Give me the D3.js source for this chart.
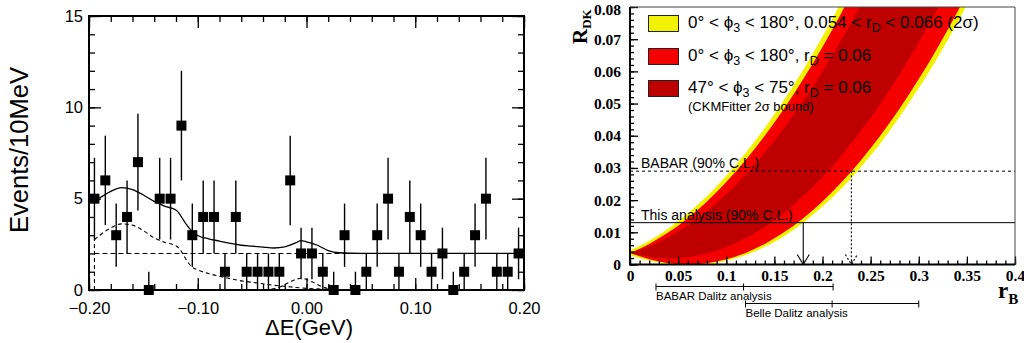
<!DOCTYPE html>
<html>
<head>
<meta charset="utf-8">
<script src="https://cdn.jsdelivr.net/npm/d3@7"></script>
<style>
  body { margin: 0; background: #fff; }
  svg { display: block; }
  .sans { font-family: "Liberation Sans", Arial, Helvetica, sans-serif; }
  .serif { font-family: "Liberation Serif", "Times New Roman", serif; font-weight: bold; }
</style>
</head>
<body>
<svg id="chart" width="1024" height="343"></svg>
<script>
// ---- left panel: Delta E distribution (10 MeV bins)
const binCenters = [-0.195, -0.185, -0.175, -0.165, -0.155, -0.145, -0.135, -0.125, -0.115, -0.105,
  -0.095, -0.085, -0.075, -0.065, -0.055, -0.045, -0.035, -0.025, -0.015, -0.005,
  0.005, 0.015, 0.025, 0.035, 0.045, 0.055, 0.065, 0.075, 0.085, 0.095,
  0.105, 0.115, 0.125, 0.135, 0.145, 0.155, 0.165, 0.175, 0.185, 0.195];
const counts = [5, 6, 3, 4, 7, 0, 5, 5, 9, 3,
  4, 4, 1, 4, 1, 1, 1, 1, 6, 2,
  2, 1, 0, 3, 0, 1, 3, 5, 1, 4,
  3, 1, 2, 0, 1, 3, 5, 1, 1, 2];

// fit curves
const totalX = [-0.195, -0.19, -0.18, -0.17, -0.16, -0.15, -0.14, -0.13, -0.12, -0.11, -0.105, -0.10,
  -0.09, -0.08, -0.07, -0.06, -0.05, -0.04, -0.03, -0.02, -0.01, -0.005, 0.0, 0.01, 0.02, 0.03, 0.05, 0.2];
const totalY = [4.9, 5.05, 5.4, 5.6, 5.5, 5.2, 4.85, 4.58, 4.38, 3.55, 3.2, 2.98,
  2.8, 2.68, 2.55, 2.45, 2.4, 2.35, 2.3, 2.36, 2.58, 2.7, 2.64, 2.45, 2.16, 2.04, 2.0, 2.0];
const peakingX = [-0.195, -0.19, -0.18, -0.17, -0.16, -0.15, -0.14, -0.13, -0.12, -0.115, -0.11, -0.105,
  -0.10, -0.09, -0.08, -0.07, -0.06, -0.05, -0.04, -0.03, -0.02, -0.01, 0.0, 0.01, 0.02, 0.04, 0.06];
const peakingY = [2.75, 3.0, 3.4, 3.62, 3.55, 3.25, 2.85, 2.6, 2.42, 2.1, 1.6, 1.25,
  1.1, 0.9, 0.75, 0.62, 0.5, 0.42, 0.34, 0.26, 0.2, 0.14, 0.09, 0.06, 0.03, 0.01, 0.0];
const signalX = [-0.045, -0.035, -0.025, -0.015, -0.005, 0.005, 0.015, 0.025, 0.035, 0.045];
const signalY = [0.0, 0.03, 0.16, 0.45, 0.64, 0.45, 0.16, 0.03, 0.0, 0.0];
const bkgX = [-0.195, 0.2];
const bkgY = [2.0, 2.0];

const xTicksLeft = [-0.2, -0.1, 0.0, 0.1, 0.2];
const yTicksLeft = [0, 5, 10, 15];

// ---- right panel: R_DK vs r_B
const rBGrid = [0, 0.02, 0.04, 0.06, 0.08, 0.10, 0.12, 0.14, 0.16, 0.18, 0.20,
  0.22, 0.24, 0.26, 0.28, 0.30, 0.32, 0.34, 0.36, 0.38, 0.40];
const yellowHi = [0.0044, 0.0074, 0.0112, 0.0159, 0.0213, 0.0276, 0.0346, 0.0424, 0.0511, 0.0605, 0.0708,
  0.0818, 0.0936, 0.1063, 0.1197, 0.1340, 0.1490, 0.1648, 0.1815, 0.1989, 0.2172];
const yellowLo = [0.0029, 0.0012, 0.0002, 0.0, 0.0002, 0.0012, 0.0029, 0.0055, 0.0088, 0.0130, 0.0180,
  0.0237, 0.0303, 0.0376, 0.0458, 0.0548, 0.0645, 0.0751, 0.0864, 0.0986, 0.1116];
const redHi = [0.0036, 0.0064, 0.0100, 0.0144, 0.0196, 0.0256, 0.0324, 0.0400, 0.0484, 0.0576, 0.0676,
  0.0784, 0.0900, 0.1024, 0.1156, 0.1296, 0.1444, 0.1600, 0.1764, 0.1936, 0.2116];
const redLo = [0.0036, 0.0016, 0.0004, 0.0, 0.0004, 0.0016, 0.0036, 0.0064, 0.0100, 0.0144, 0.0196,
  0.0256, 0.0324, 0.0400, 0.0484, 0.0576, 0.0676, 0.0784, 0.0900, 0.1024, 0.1156];
const darkHi = [0.0036, 0.0056, 0.0085, 0.0121, 0.0165, 0.0218, 0.0278, 0.0347, 0.0423, 0.0507, 0.0600,
  0.0700, 0.0808, 0.0925, 0.1049, 0.1181, 0.1322, 0.1470, 0.1626, 0.1791, 0.1963];
const darkLo = [0.0036, 0.0024, 0.0019, 0.0023, 0.0035, 0.0054, 0.0082, 0.0117, 0.0161, 0.0213, 0.0272,
  0.0340, 0.0416, 0.0499, 0.0591, 0.0691, 0.0798, 0.0914, 0.1038, 0.1169, 0.1309];

const babarLimit = { rdk: 0.029, rb: 0.23, label: 'BABAR (90% C.L.)' };
const thisLimit = { rdk: 0.013, rb: 0.18, label: 'This analysis (90% C.L.)' };
const babarDalitz = [0.027, 0.118, 0.211];
const belleDalitz = [0.12, 0.21, 0.30];

const xTicksRight = [0, 0.05, 0.1, 0.15, 0.2, 0.25, 0.3, 0.35, 0.4];
const yTicksRight = [0, 0.01, 0.02, 0.03, 0.04, 0.05, 0.06, 0.07, 0.08];

const colYellow = '#f2f200';
const colRed = '#f40000';
const colDark = '#bf0000';

const svg = d3.select('#chart');

// ================= left panel =================
const xL = d3.scaleLinear().domain([-0.2, 0.2]).range([89, 524]);
const yL = d3.scaleLinear().domain([0, 15]).range([290, 16]);

function styleAxis(g, cls, size) {
  g.select('.domain').remove();
  g.selectAll('line').attr('stroke', '#000').attr('stroke-width', 1.3);
  g.attr('font-family', null).attr('font-size', null);
  g.selectAll('text').attr('class', cls).attr('font-size', size).attr('fill', '#000');
}

const left = svg.append('g');

left.append('g').attr('transform', 'translate(0,' + yL(0) + ')')
  .call(d3.axisBottom(xL).tickValues(xTicksLeft).tickSize(-12).tickPadding(12).tickFormat(d3.format('.2f')))
  .call(g => styleAxis(g, 'sans', 16.5));
left.append('g').attr('transform', 'translate(0,' + yL(0) + ')')
  .call(d3.axisBottom(xL).tickValues(xL.ticks(20)).tickSize(-6).tickFormat(''))
  .call(g => styleAxis(g, 'sans', 10));
left.append('g').attr('transform', 'translate(0,' + yL(15) + ')')
  .call(d3.axisTop(xL).tickValues(xTicksLeft).tickSize(-12).tickFormat(''))
  .call(g => styleAxis(g, 'sans', 10));
left.append('g').attr('transform', 'translate(0,' + yL(15) + ')')
  .call(d3.axisTop(xL).tickValues(xL.ticks(20)).tickSize(-6).tickFormat(''))
  .call(g => styleAxis(g, 'sans', 10));
left.append('g').attr('transform', 'translate(' + xL(-0.2) + ',0)')
  .call(d3.axisLeft(yL).tickValues(yTicksLeft).tickSize(-12).tickPadding(6))
  .call(g => styleAxis(g, 'sans', 16.5));
left.append('g').attr('transform', 'translate(' + xL(-0.2) + ',0)')
  .call(d3.axisLeft(yL).tickValues(yL.ticks(15)).tickSize(-6).tickFormat(''))
  .call(g => styleAxis(g, 'sans', 10));
left.append('g').attr('transform', 'translate(' + xL(0.2) + ',0)')
  .call(d3.axisRight(yL).tickValues(yTicksLeft).tickSize(-12).tickFormat(''))
  .call(g => styleAxis(g, 'sans', 10));
left.append('g').attr('transform', 'translate(' + xL(0.2) + ',0)')
  .call(d3.axisRight(yL).tickValues(yL.ticks(15)).tickSize(-6).tickFormat(''))
  .call(g => styleAxis(g, 'sans', 10));

// fit components
const lineL = (xs, ys) => d3.line()
  .x((d, i) => xL(xs[i]))
  .y(d => yL(d))
  .curve(d3.curveMonotoneX)(ys);

left.append('path').attr('d', lineL(bkgX, bkgY))
  .attr('fill', 'none').attr('stroke', '#000').attr('stroke-width', 1.1).attr('stroke-dasharray', '5,3');
left.append('line')
  .attr('x1', xL(peakingX[0])).attr('x2', xL(peakingX[0]))
  .attr('y1', yL(0)).attr('y2', yL(peakingY[0]))
  .attr('stroke', '#000').attr('stroke-width', 1.1).attr('stroke-dasharray', '4,3');
left.append('path').attr('d', lineL(peakingX, peakingY))
  .attr('fill', 'none').attr('stroke', '#000').attr('stroke-width', 1.1).attr('stroke-dasharray', '4,3');
left.append('path').attr('d', lineL(signalX, signalY))
  .attr('fill', 'none').attr('stroke', '#000').attr('stroke-width', 1.1).attr('stroke-dasharray', '4,3');
left.append('path').attr('d', lineL(totalX, totalY))
  .attr('fill', 'none').attr('stroke', '#000').attr('stroke-width', 1.3);

// data points with sqrt(n) errors
const pts = binCenters.map((c, i) => ({ x: c, n: counts[i] }));
left.append('g').selectAll('line').data(pts).join('line')
  .attr('x1', d => xL(d.x)).attr('x2', d => xL(d.x))
  .attr('y1', d => yL(Math.max(0, d.n - Math.sqrt(d.n))))
  .attr('y2', d => yL(d.n + (d.n > 0 ? Math.sqrt(d.n) : 1)))
  .attr('stroke', '#000').attr('stroke-width', 1.4);
left.append('g').selectAll('rect').data(pts).join('rect')
  .attr('x', d => xL(d.x) - 5).attr('y', d => yL(d.n) - 5)
  .attr('width', 10).attr('height', 10).attr('fill', '#000');

left.append('rect')
  .attr('x', xL(-0.2)).attr('y', yL(15))
  .attr('width', xL(0.2) - xL(-0.2)).attr('height', yL(0) - yL(15))
  .attr('fill', 'none').attr('stroke', '#000').attr('stroke-width', 2);

left.append('text').attr('class', 'sans')
  .attr('transform', 'translate(28,150) rotate(-90)')
  .attr('text-anchor', 'middle').attr('font-size', 25.5)
  .text('Events/10MeV');
left.append('text').attr('class', 'sans')
  .attr('x', 309).attr('y', 335).attr('text-anchor', 'middle').attr('font-size', 22)
  .text('ΔE(GeV)');

// ================= right panel =================
const xR = d3.scaleLinear().domain([0, 0.4]).range([630, 1015]);
const yR = d3.scaleLinear().domain([0, 0.08]).range([264.5, 7]);
const right = svg.append('g');

right.append('clipPath').attr('id', 'clipR').append('rect')
  .attr('x', xR(0)).attr('y', yR(0.08))
  .attr('width', xR(0.4) - xR(0)).attr('height', yR(0) - yR(0.08));

const band = (lo, hi) => d3.area()
  .x((d, i) => xR(rBGrid[i]))
  .y0((d, i) => yR(lo[i]))
  .y1((d, i) => yR(hi[i]))
  .curve(d3.curveMonotoneX)(rBGrid);

const bands = right.append('g').attr('clip-path', 'url(#clipR)');
bands.append('path').attr('d', band(yellowLo, yellowHi)).attr('fill', colYellow);
bands.append('path').attr('d', band(redLo, redHi)).attr('fill', colRed);
bands.append('path').attr('d', band(darkLo, darkHi)).attr('fill', colDark);

// limit lines
right.append('line')
  .attr('x1', xR(0)).attr('x2', xR(0.4)).attr('y1', yR(babarLimit.rdk)).attr('y2', yR(babarLimit.rdk))
  .attr('stroke', '#000').attr('stroke-width', 1).attr('stroke-dasharray', '3,3');
right.append('line')
  .attr('x1', xR(0)).attr('x2', xR(0.4)).attr('y1', yR(thisLimit.rdk)).attr('y2', yR(thisLimit.rdk))
  .attr('stroke', '#000').attr('stroke-width', 1);

function arrow(lim, dash) {
  const g = right.append('g').attr('stroke', '#000').attr('stroke-width', 1.1).attr('fill', 'none');
  if (dash) g.attr('stroke-dasharray', dash);
  const x = xR(lim.rb);
  const yb = yR(0);
  g.append('line').attr('x1', x).attr('x2', x).attr('y1', yR(lim.rdk)).attr('y2', yb);
  g.append('path').attr('d', 'M' + (x - 6) + ',' + (yb - 10) + 'L' + x + ',' + yb + 'L' + (x + 6) + ',' + (yb - 10));
}
arrow(thisLimit, null);
arrow(babarLimit, '2,2');

right.append('text').attr('class', 'sans').attr('font-size', 14)
  .attr('x', 641).attr('y', yR(babarLimit.rdk) - 3).text(babarLimit.label);
right.append('text').attr('class', 'sans').attr('font-size', 14)
  .attr('x', 641).attr('y', yR(thisLimit.rdk) - 3).text(thisLimit.label);

// axes
right.append('g').attr('transform', 'translate(0,' + yR(0) + ')')
  .call(d3.axisBottom(xR).tickValues(xTicksRight).tickSize(-8).tickPadding(5).tickFormat(d => String(d)))
  .call(g => styleAxis(g, 'serif', 15.5));
right.append('g').attr('transform', 'translate(0,' + yR(0) + ')')
  .call(d3.axisBottom(xR).tickValues(xR.ticks(40)).tickSize(-4).tickFormat(''))
  .call(g => styleAxis(g, 'serif', 10));
right.append('g').attr('transform', 'translate(' + xR(0) + ',0)')
  .call(d3.axisLeft(yR).tickValues(yTicksRight).tickSize(-8).tickPadding(9).tickFormat(d => String(d)))
  .call(g => styleAxis(g, 'serif', 15.5))
  .call(g => g.selectAll('.tick').filter(d => d === 0.08).select('text').attr('dy', '0.5em'));
right.append('g').attr('transform', 'translate(' + xR(0) + ',0)')
  .call(d3.axisLeft(yR).tickValues(yR.ticks(40)).tickSize(-4).tickFormat(''))
  .call(g => styleAxis(g, 'serif', 10));

// frame
right.append('path')
  .attr('d', 'M' + xR(0) + ',' + yR(0.08) + 'H' + xR(0.4) + 'V' + yR(0))
  .attr('fill', 'none').attr('stroke', '#444').attr('stroke-width', 1);
right.append('path')
  .attr('d', 'M' + xR(0) + ',' + yR(0.08) + 'V' + yR(0) + 'H' + xR(0.4))
  .attr('fill', 'none').attr('stroke', '#000').attr('stroke-width', 2);

// axis titles
const rdk = right.append('text').attr('class', 'serif')
  .attr('transform', 'translate(587,44) rotate(-90)').attr('font-size', 21);
rdk.append('tspan').text('R');
rdk.append('tspan').attr('font-size', 13).attr('dy', 4).text('DK');
const rb = right.append('text').attr('class', 'serif')
  .attr('x', 998).attr('y', 298).attr('font-size', 23);
rb.append('tspan').text('r');
rb.append('tspan').attr('font-size', 15).attr('dy', 6).text('B');

// Dalitz analysis ranges
function rangeBar(vals, y, label) {
  const g = right.append('g');
  g.append('line').attr('x1', xR(vals[0])).attr('x2', xR(vals[2])).attr('y1', y).attr('y2', y)
    .attr('stroke', '#000').attr('stroke-width', 1.1);
  g.selectAll('.tk').data(vals).join('line').attr('class', 'tk')
    .attr('x1', d => xR(d)).attr('x2', d => xR(d)).attr('y1', y - 3).attr('y2', y + 4)
    .attr('stroke', '#000').attr('stroke-width', 1);
  g.append('text').attr('class', 'sans').attr('font-size', 11.5)
    .attr('x', xR(vals[0])).attr('y', y + 13).text(label);
}
rangeBar(babarDalitz, 286.5, 'BABAR Dalitz analysis');
rangeBar(belleDalitz, 303.5, 'Belle Dalitz analysis');

// legend
const legendRows = [
  { color: colYellow, y: 15, parts: [['0° < ϕ'], ['3', 1], [' < 180°, 0.054 < r'], ['D', 1], [' < 0.066 (2σ)']] },
  { color: colRed, y: 48, parts: [['0° < ϕ'], ['3', 1], [' < 180°, r'], ['D', 1], [' = 0.06']] },
  { color: colDark, y: 80, parts: [['47° < ϕ'], ['3', 1], [' < 75°, r'], ['D', 1], [' = 0.06']] }
];
const legend = right.append('g');
legendRows.forEach(row => {
  legend.append('rect').attr('x', 648.5).attr('y', row.y + 0.5).attr('width', 30).attr('height', 16)
    .attr('fill', row.color).attr('stroke', '#222').attr('stroke-width', 1);
  const t = legend.append('text').attr('class', 'sans').attr('font-size', 17)
    .attr('x', 688).attr('y', row.y + 13);
  let shifted = false;
  row.parts.forEach(p => {
    const ts = t.append('tspan').text(p[0]);
    if (p[1]) { ts.attr('font-size', 12.5).attr('dy', 4); shifted = true; }
    else if (shifted) { ts.attr('dy', -4); shifted = false; }
  });
});
legend.append('text').attr('class', 'sans').attr('font-size', 13)
  .attr('x', 688).attr('y', 111).text('(CKMFitter 2σ bound)');
</script>
</body>
</html>
